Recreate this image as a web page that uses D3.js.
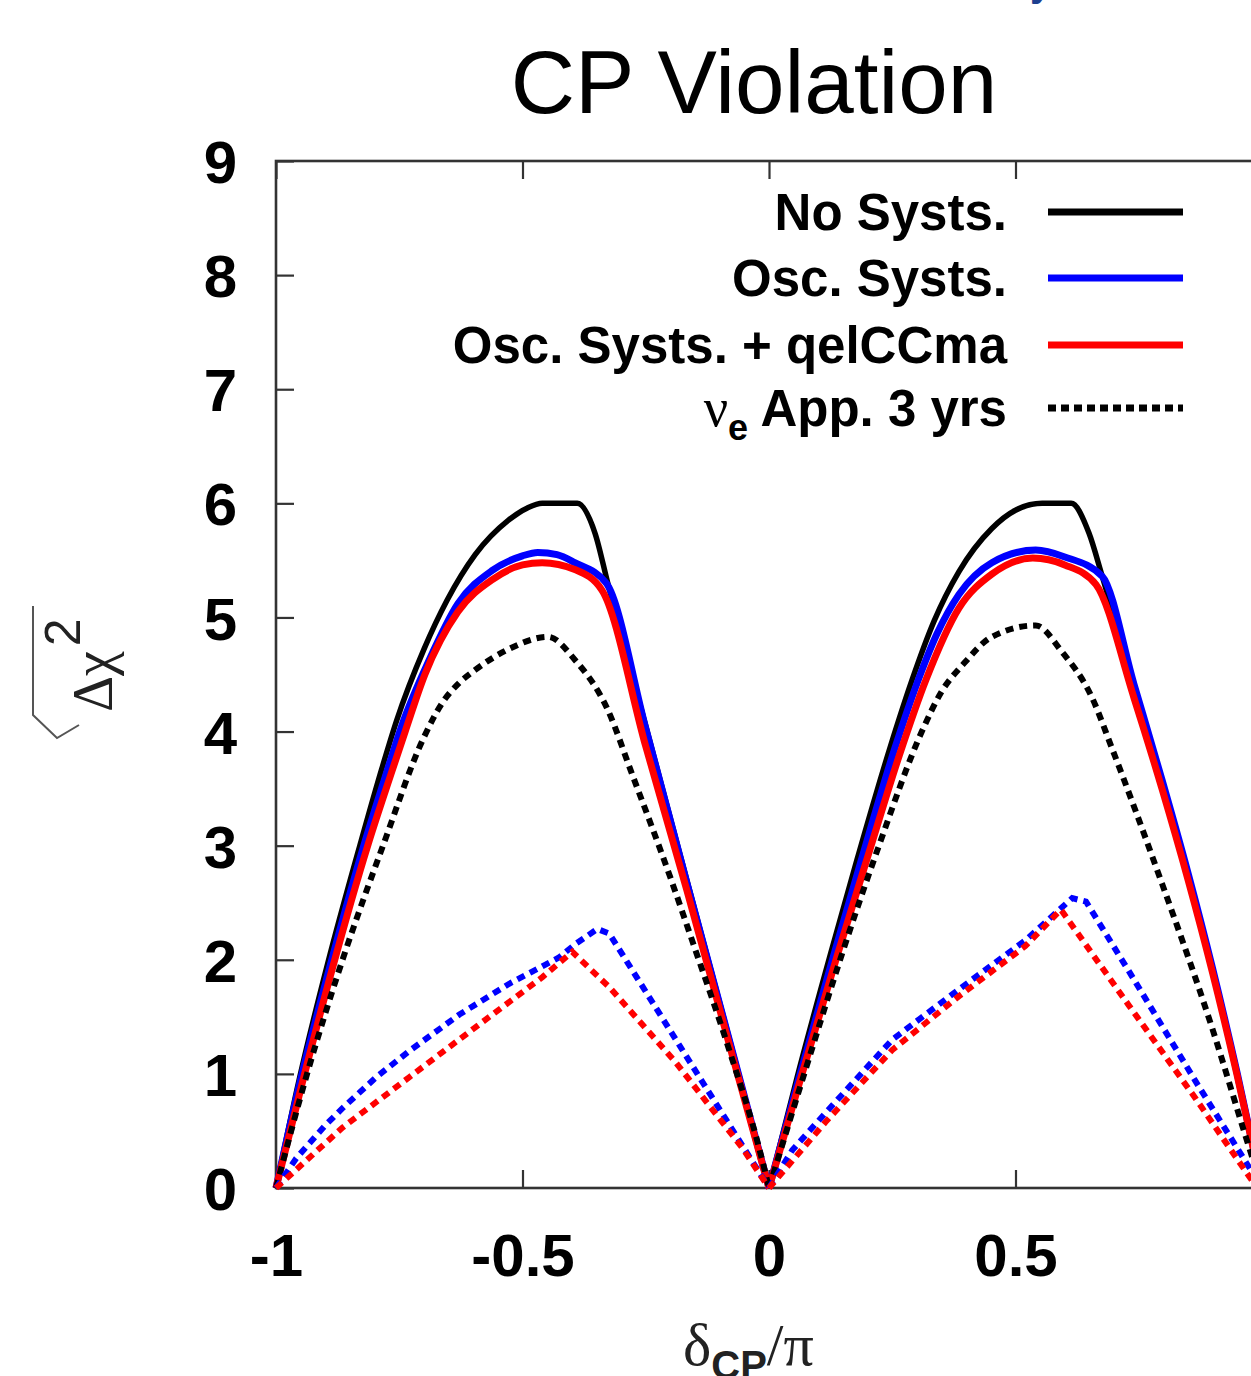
<!DOCTYPE html>
<html>
<head>
<meta charset="utf-8">
<script src="https://cdn.jsdelivr.net/npm/d3@7"></script>
<style>
  html, body { margin: 0; padding: 0; background: #fff; }
  svg { display: block; }
</style>
</head>
<body>
<svg id="chart" width="1251" height="1376"></svg>
<script>
// ---------------- DATA ----------------
const title = "CP Violation";
const xTicks = [-1, -0.5, 0, 0.5, 1];
const xTickLabels = ["-1", "-0.5", "0", "0.5", ""];   // "1" falls outside the picture
const yTicks = [0, 1, 2, 3, 4, 5, 6, 7, 8, 9];
const seriesNames = ["No Systs.", "Osc. Systs.", "Osc. Systs. + qelCCma", "App. 3 yrs"];

// Solid: full analysis
const noSysts = [
  [-1,0],[-0.953,0.95],[-0.895,1.97],[-0.83,3.0],[-0.785,3.68],[-0.755,4.1],[-0.70,4.72],
  [-0.653,5.15],[-0.596,5.55],[-0.529,5.85],[-0.49,5.96],[-0.46,6.0],[-0.389,6.0],[-0.353,5.74],
  [-0.327,5.30],[-0.25,4.05],[-0.165,2.67],[-0.08,1.30],[0,0],
  [0.057,0.97],[0.126,2.07],[0.18,2.9],[0.247,3.88],[0.29,4.45],[0.335,4.97],[0.385,5.4],
  [0.452,5.78],[0.50,5.94],[0.554,6.0],[0.613,6.0],[0.649,5.74],[0.676,5.36],[0.74,4.42],
  [0.797,3.57],[0.85,2.75],[0.90,1.9],[0.95,1.0],[1,0]
];
const oscSysts = [
  [-1,0],[-0.95,0.95],[-0.89,1.95],[-0.822,3.0],[-0.775,3.65],[-0.745,4.05],[-0.69,4.62],
  [-0.631,5.12],[-0.562,5.41],[-0.50,5.54],[-0.469,5.57],[-0.43,5.55],[-0.394,5.48],[-0.33,5.30],
  [-0.25,4.03],[-0.165,2.65],[-0.08,1.29],[0,0],
  [0.06,0.95],[0.13,2.02],[0.187,2.87],[0.255,3.85],[0.30,4.42],[0.34,4.85],[0.385,5.2],
  [0.452,5.48],[0.541,5.59],[0.60,5.53],[0.676,5.36],[0.74,4.42],[0.797,3.58],[0.85,2.76],
  [0.90,1.92],[0.95,1.0],[1,0]
];
const oscQel = [
  [-1,0],[-0.945,0.95],[-0.884,1.95],[-0.814,3.0],[-0.765,3.65],[-0.738,4.0],[-0.698,4.5],
  [-0.631,5.05],[-0.562,5.33],[-0.50,5.46],[-0.46,5.48],[-0.394,5.42],[-0.339,5.24],
  [-0.25,3.87],[-0.166,2.6],[-0.08,1.25],[0,0],
  [0.065,0.97],[0.138,2.03],[0.2,2.9],[0.265,3.8],[0.318,4.45],[0.385,5.08],[0.452,5.38],
  [0.535,5.52],[0.60,5.46],[0.663,5.29],[0.74,4.3],[0.797,3.5],[0.85,2.7],[0.90,1.88],
  [0.95,0.98],[1,0]
];
// Dotted: nu_e appearance, 3 years
const appNoSysts = [
  [-1,0],[-0.937,1.0],[-0.865,2.0],[-0.783,3.0],[-0.70,3.95],[-0.663,4.25],[-0.63,4.42],
  [-0.596,4.54],[-0.529,4.72],[-0.448,4.83],[-0.394,4.63],[-0.327,4.19],[-0.278,3.63],
  [-0.2,2.72],[-0.156,2.17],[-0.08,1.2],[-0.02,0.35],[0,0],
  [0.075,1.05],[0.148,2.05],[0.223,3.0],[0.31,4.0],[0.35,4.35],[0.396,4.6],
  [0.452,4.83],[0.541,4.93],[0.594,4.7],[0.655,4.3],[0.696,3.85],[0.797,2.67],[0.899,1.40],
  [0.967,0.45],[1,0]
];
const appOsc = [
  [-1,0],[-0.959,0.26],[-0.90,0.55],[-0.865,0.70],[-0.797,0.97],[-0.73,1.20],[-0.628,1.52],
  [-0.527,1.79],[-0.426,2.02],[-0.392,2.14],[-0.348,2.27],[-0.324,2.23],[0,0],
  [0.047,0.33],[0.115,0.66],[0.25,1.30],[0.385,1.74],[0.52,2.17],[0.615,2.54],[0.643,2.51],
  [0.73,1.9],[0.866,0.93],[1,0]
];
const appOscQel = [
  [-1,0],[-0.865,0.53],[-0.73,0.97],[-0.595,1.41],[-0.459,1.85],[-0.399,2.07],[-0.324,1.76],
  [-0.189,1.1],[-0.054,0.35],[0,0],
  [0.115,0.58],[0.25,1.21],[0.385,1.68],[0.52,2.12],[0.592,2.44],[0.73,1.6],[0.866,0.78],
  [0.99,0]
];

// ---------------- LAYOUT ----------------
const svg = d3.select("#chart");
svg.append("rect").attr("width", 1251).attr("height", 1376).attr("fill", "#fff");

const L = 276, R = 1262, T = 161, B = 1188;
const x = d3.scaleLinear().domain([-1, 1]).range([L, R]);
const y = d3.scaleLinear().domain([0, 9]).range([B, T]);

const sans = "'Liberation Sans', Arial, Helvetica, sans-serif";
const serif = "'Liberation Serif', 'Times New Roman', serif";

// cropped glyph at very top (from surrounding page)
svg.append("text").attr("x", 1030).attr("y", -4).attr("font-family", sans)
  .attr("font-size", 40).attr("font-weight", "bold").attr("fill", "#1d3f8f").text("y");

// Title
svg.append("text").attr("x", 754).attr("y", 113).attr("text-anchor", "middle")
  .attr("font-family", sans).attr("font-size", 89).attr("fill", "#000").text(title);

// Axes (ticks inward)
const tickColor = "#333";
const gL = svg.append("g").attr("transform", `translate(${L},0)`)
  .call(d3.axisLeft(y).tickValues(yTicks).tickSize(-18).tickPadding(39).tickFormat(d3.format("d")));
const gB = svg.append("g").attr("transform", `translate(0,${B})`)
  .call(d3.axisBottom(x).tickValues(xTicks).tickSize(-18).tickPadding(45)
    .tickFormat((d, i) => xTickLabels[i]));
const gT = svg.append("g").attr("transform", `translate(0,${T})`)
  .call(d3.axisTop(x).tickValues(xTicks).tickSize(-18).tickFormat(""));

[gL, gB, gT].forEach(g => {
  g.select(".domain").remove();
  g.selectAll(".tick line").attr("stroke", tickColor).attr("stroke-width", 2.2);
  g.selectAll(".tick text").attr("font-family", sans).attr("font-size", 60)
    .attr("font-weight", "bold").attr("fill", "#000");
});
gL.selectAll(".tick text").attr("dy", "0.36em");

// Frame
svg.append("rect").attr("x", L).attr("y", T).attr("width", R - L).attr("height", B - T)
  .attr("fill", "none").attr("stroke", tickColor).attr("stroke-width", 2.6);

// Curves (each hump drawn as its own smooth piece so the cusps at 0 stay sharp)
const smooth = d3.line().x(d => x(d[0])).y(d => y(d[1])).curve(d3.curveMonotoneX);
const straight = d3.line().x(d => x(d[0])).y(d => y(d[1]));
const curves = [
  { data: noSysts,    color: "#000000", width: 5.5, dash: null,  gen: smooth },
  { data: oscSysts,   color: "#0000ff", width: 7,   dash: null,  gen: smooth },
  { data: oscQel,     color: "#ff0000", width: 7,   dash: null,  gen: smooth },
  { data: appNoSysts, color: "#000000", width: 6,   dash: "8,6", gen: smooth },
  { data: appOsc,     color: "#0000ff", width: 6,   dash: "8,6", gen: straight },
  { data: appOscQel,  color: "#ff0000", width: 6,   dash: "8,6", gen: straight }
];
curves.forEach(c => {
  const left = c.data.filter(d => d[0] <= 0);
  const right = c.data.filter(d => d[0] >= 0);
  [left, right].forEach(part => {
    svg.append("path").datum(part).attr("d", c.gen)
      .attr("fill", "none").attr("stroke", c.color).attr("stroke-width", c.width)
      .attr("stroke-linejoin", "miter").attr("stroke-miterlimit", 3)
      .attr("stroke-dasharray", c.dash);
  });
});

// Legend
const legRows = [212, 278, 345, 408];
const legend = svg.append("g");
const legStyles = [
  { color: "#000", dash: null }, { color: "#0000ff", dash: null },
  { color: "#ff0000", dash: null }, { color: "#000", dash: "8,5" }
];
legRows.forEach((ry, i) => {
  legend.append("line").attr("x1", 1048).attr("x2", 1183).attr("y1", ry).attr("y2", ry)
    .attr("stroke", legStyles[i].color).attr("stroke-width", 7)
    .attr("stroke-dasharray", legStyles[i].dash);
  const t = legend.append("text").attr("x", 1007).attr("y", ry + 18)
    .attr("text-anchor", "end").attr("font-family", sans).attr("font-size", 51)
    .attr("font-weight", "bold").attr("fill", "#000");
  if (i < 3) {
    t.text(seriesNames[i]);
  } else {
    t.append("tspan").attr("font-weight", "normal").attr("font-family", serif).attr("font-size", 54).text("ν");
    t.append("tspan").attr("font-size", 36).attr("dy", 14).text("e");
    t.append("tspan").attr("dy", -14).text(" " + seriesNames[i]);
  }
});

// Y-axis label: sqrt(Δχ²), rotated
const yl = svg.append("g");
yl.append("path").attr("d", "M33,606 L33,715 L57,738 L79,725")
  .attr("fill", "none").attr("stroke", "#555").attr("stroke-width", 2);
const ylt = yl.append("text").attr("transform", "translate(112,712) rotate(-90)")
  .attr("font-family", serif).attr("font-size", 56).attr("fill", "#222");
ylt.append("tspan").text("Δχ");
ylt.append("tspan").attr("font-family", sans).attr("font-size", 50).attr("dx", 5).attr("dy", -32).text("2");

// X-axis label: δCP/π
const xl = svg.append("text").attr("x", 683).attr("y", 1365)
  .attr("font-family", serif).attr("font-size", 60).attr("fill", "#222");
xl.append("tspan").text("δ");
xl.append("tspan").attr("font-family", sans).attr("font-weight", "bold").attr("font-size", 40)
  .attr("dy", 14).text("CP");
xl.append("tspan").attr("dy", -14).text("/π");
</script>
</body>
</html>
